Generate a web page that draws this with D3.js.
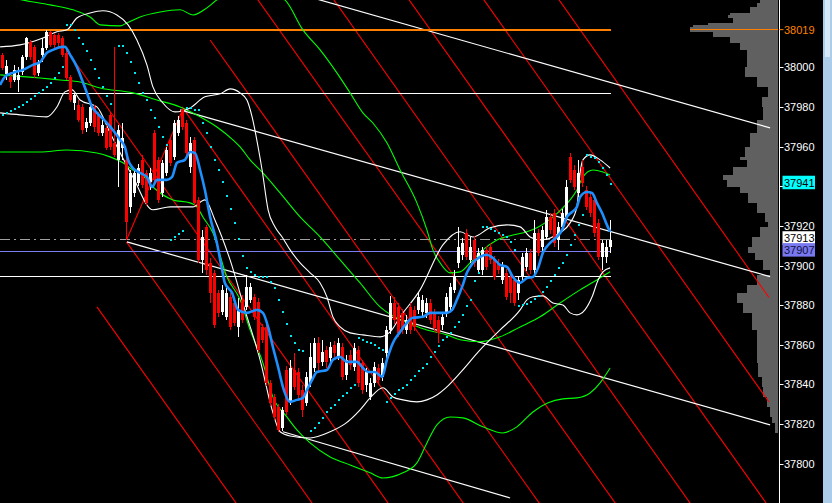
<!DOCTYPE html>
<html><head><meta charset="utf-8">
<script src="https://cdn.jsdelivr.net/npm/d3@7"></script>
<style>html,body{margin:0;padding:0;background:#000;}svg{display:block;}</style>
</head><body>
<svg id="c" width="832" height="503"></svg>
<script>
// ---------- DATA ----------
const opens=[38006.3,37996.7,37995.2,37993.6,37993.6,37997.7,38005.3,38012.8,38010.3,37997.2,38006.3,38009.8,38017.9,38016.3,38016.3,38014.8,38007.3,37995.2,37982.0,37981.0,37980.0,37969.4,37972.0,37980.0,37976.0,37966.9,37969.4,37976.0,37961.9,37953.3,37959.3,37953.3,37929.6,37936.6,37941.7,37953.3,37946.7,37942.2,37966.9,37953.3,37936.6,37946.7,37963.4,37954.8,37966.9,37978.5,37971.9,37949.7,37963.4,37933.1,37902.8,37919.5,37901.3,37896.3,37886.2,37876.6,37874.1,37884.2,37881.1,37869.0,37882.7,37879.1,37882.7,37884.2,37881.6,37869.0,37869.0,37840.8,37833.7,37828.7,37818.1,37847.3,37831.2,37847.3,37846.3,37837.2,37830.7,37840.8,37848.3,37860.9,37851.4,37857.4,37853.4,37859.9,37854.4,37858.9,37844.8,37854.9,37848.8,37857.4,37850.9,37839.8,37833.7,37840.8,37848.3,37843.8,37855.9,37867.5,37881.1,37879.1,37876.1,37867.5,37879.1,37877.6,37877.6,37876.6,37876.1,37881.1,37876.1,37872.6,37870.0,37876.1,37879.1,37887.7,37901.3,37905.4,37916.5,37902.8,37912.9,37897.8,37897.8,37907.9,37909.4,37902.8,37901.3,37892.7,37896.3,37894.2,37892.7,37886.2,37894.2,37899.3,37906.4,37897.8,37916.5,37909.4,37914.4,37924.5,37926.5,37912.9,37919.5,37924.5,37954.8,37948.2,37936.6,37949.7,37938.1,37934.6,37933.1,37921.5,37904.3,37904.3,37909.4];
const highs=[38007.3,38003.7,37997.7,38001.2,38000.2,38006.3,38015.3,38013.8,38011.3,38003.7,38014.8,38019.0,38018.4,38017.3,38017.3,38015.8,38008.8,37996.2,37987.1,37983.5,37981.5,37974.5,37981.5,37981.0,37977.5,37973.5,37970.9,37977.5,38010.3,37970.9,37972.0,37955.8,37948.2,37949.2,37951.3,37955.8,37948.2,37949.2,37968.4,37954.8,37953.3,37959.8,37964.9,37973.5,37975.5,37979.5,37973.5,37964.9,37964.9,37934.6,37918.0,37920.5,37903.8,37897.8,37887.7,37890.2,37888.7,37886.2,37882.7,37883.7,37885.2,37895.3,37891.2,37885.7,37883.7,37870.5,37870.5,37842.3,37835.2,37830.2,37828.7,37849.3,37852.4,37855.9,37848.3,37839.8,37846.3,37860.9,37863.5,37864.0,37862.5,37859.4,37861.5,37862.0,37863.5,37860.9,37854.9,37857.4,37860.9,37859.4,37852.4,37848.3,37843.3,37851.4,37850.4,37853.4,37869.5,37884.7,37884.2,37881.1,37878.1,37875.1,37881.1,37879.6,37886.7,37885.2,37883.7,37883.2,37878.1,37874.6,37876.6,37886.2,37891.2,37897.8,37919.5,37913.9,37918.5,37914.4,37914.9,37908.9,37909.4,37909.9,37911.4,37904.8,37903.3,37901.8,37898.3,37896.3,37894.7,37894.2,37906.4,37908.9,37908.4,37923.0,37918.5,37920.0,37928.1,37926.5,37928.6,37922.0,37928.6,37943.2,37956.8,37950.8,37953.3,37953.3,37940.1,37936.6,37935.1,37923.5,37912.9,37912.9,37923.0];
const lows=[37998.7,37993.6,37989.6,37992.6,37987.6,37996.2,38003.7,38003.7,37994.6,37995.7,38002.7,38008.8,38010.3,38009.8,38010.8,38005.3,37993.6,37982.5,37978.5,37972.5,37966.4,37967.4,37970.5,37967.4,37965.4,37965.4,37958.3,37958.3,37954.8,37939.6,37953.3,37912.9,37926.6,37934.6,37940.1,37939.1,37930.1,37938.1,37941.7,37931.6,37934.6,37945.2,37950.3,37953.3,37965.4,37968.4,37955.3,37946.7,37930.1,37901.3,37896.3,37895.3,37881.1,37868.5,37874.1,37875.1,37872.6,37867.5,37869.5,37864.0,37871.1,37877.6,37881.1,37872.6,37855.9,37861.0,37839.3,37829.2,37822.1,37816.1,37816.6,37824.6,37829.7,37837.2,37832.2,37823.6,37829.2,37838.8,37846.3,37845.8,37849.3,37848.3,37851.4,37853.9,37852.4,37842.3,37842.3,37847.3,37846.8,37838.8,37835.2,37836.2,37832.2,37838.8,37840.3,37841.8,37853.4,37865.5,37870.5,37864.0,37865.5,37865.5,37865.5,37867.0,37875.6,37874.6,37873.6,37870.5,37866.5,37860.9,37867.5,37874.1,37877.6,37886.2,37898.8,37902.8,37902.8,37901.3,37899.3,37896.3,37895.3,37897.8,37900.8,37892.7,37895.8,37890.7,37882.7,37881.1,37879.6,37882.7,37892.7,37897.3,37895.8,37895.8,37904.8,37907.4,37912.9,37915.9,37909.4,37907.9,37918.0,37922.5,37941.7,37938.1,37934.6,37939.6,37928.1,37924.5,37914.4,37902.8,37897.8,37901.3,37906.4];
const closes=[37999.7,38000.7,37992.6,37998.7,37996.2,38005.3,38014.8,38005.3,37996.2,38002.2,38009.8,38017.9,38011.3,38011.3,38012.3,38006.3,37994.6,37983.5,37986.1,37973.5,37968.4,37972.5,37980.0,37970.0,37966.9,37970.9,37959.3,37959.8,37955.8,37968.4,37964.4,37922.0,37946.7,37946.7,37949.2,37940.7,37931.6,37946.7,37943.2,37933.1,37951.8,37958.3,37951.8,37971.9,37973.5,37969.9,37956.8,37961.9,37931.6,37902.8,37914.4,37897.8,37886.2,37870.0,37876.1,37887.7,37886.2,37869.0,37871.1,37877.6,37872.6,37889.2,37889.2,37874.1,37857.4,37862.5,37840.8,37830.7,37823.6,37817.1,37827.2,37826.2,37848.3,37838.8,37834.7,37827.2,37843.8,37853.9,37860.9,37850.8,37856.4,37851.4,37858.9,37855.9,37860.9,37843.8,37852.4,37849.8,37858.4,37840.8,37837.2,37846.3,37840.8,37848.8,37842.3,37850.9,37867.5,37881.1,37872.6,37866.0,37867.5,37872.6,37867.5,37869.0,37884.2,37882.7,37881.1,37872.6,37868.5,37866.0,37874.1,37884.2,37889.2,37894.2,37909.4,37911.4,37904.3,37909.4,37901.3,37906.4,37907.9,37899.3,37902.8,37894.2,37897.8,37899.3,37884.2,37886.2,37881.1,37892.7,37904.3,37906.4,37897.8,37916.5,37906.4,37918.0,37924.5,37918.0,37911.4,37919.5,37926.5,37939.6,37943.2,37939.6,37946.7,37941.7,37929.6,37926.5,37916.5,37904.3,37911.4,37909.4,37913.0];

// moving average (blue) [bar, price]
const maLine=[[-0.6,37991.1],[0.6,37995.2],[2.6,37997.2],[5.1,37998.7],[7.6,38001.2],[9.4,38002.7],[11.1,38007.3],[12.6,38008.8],[14.9,38010.3],[15.6,38010.3],[16.9,38006.3],[18.6,38000.2],[19.9,37993.6],[21.1,37987.1],[22.4,37980.0],[23.6,37977.0],[26.1,37972.0],[27.6,37968.4],[29.4,37963.4],[30.6,37959.8],[31.4,37953.3],[32.6,37949.2],[34.4,37946.7],[36.1,37944.7],[37.4,37939.6],[38.6,37943.2],[41.1,37943.2],[42.4,37944.7],[43.6,37951.8],[45.6,37953.3],[46.9,37957.3],[48.1,37956.8],[49.4,37948.2],[50.6,37938.1],[51.9,37924.5],[53.6,37911.4],[54.9,37897.8],[55.6,37891.2],[57.4,37886.2],[58.9,37877.6],[61.1,37876.1],[63.6,37877.6],[65.1,37876.1],[66.4,37869.0],[67.6,37858.9],[68.9,37848.8],[70.1,37838.8],[71.9,37831.2],[73.6,37832.2],[75.1,37833.2],[76.1,37837.2],[77.4,37842.3],[78.6,37846.3],[81.1,37847.3],[82.6,37852.4],[84.4,37853.9],[86.1,37851.4],[88.6,37851.4],[90.1,37848.3],[91.4,37846.3],[93.1,37846.3],[94.9,37843.8],[96.1,37852.4],[97.6,37860.9],[99.4,37866.5],[101.1,37871.1],[102.6,37873.6],[105.1,37874.1],[106.9,37876.1],[111.1,37876.1],[112.4,37877.6],[113.6,37882.7],[114.9,37889.2],[116.1,37896.3],[117.6,37901.3],[119.4,37904.3],[121.1,37905.4],[122.6,37903.8],[124.4,37900.3],[126.1,37899.3],[127.6,37894.2],[129.4,37891.2],[131.1,37893.7],[132.6,37894.2],[133.9,37898.8],[135.1,37906.4],[136.9,37911.4],[138.6,37914.4],[139.9,37918.0],[141.1,37924.5],[142.4,37927.0],[143.6,37929.6],[144.4,37934.6],[146.1,37937.1],[147.4,37936.6],[148.6,37931.6],[149.9,37926.5],[151.1,37920.5],[151.9,37917.0]];

// parabolic SAR, one value per bar (null = no dot)
const sarValues=[37976.0,37977.0,37978.0,37979.0,37980.0,37981.0,37982.5,37984.0,37985.6,37987.1,37988.6,37990.1,37992.1,37994.6,37997.2,38000.2,38021.4,38021.4,38018.9,38014.8,38011.8,38008.3,38003.7,37999.2,37994.6,37990.1,37985.6,37981.5,null,38010.8,38010.8,38007.3,38002.7,37997.2,37992.1,37987.1,37983.5,37978.5,37974.5,37969.9,37964.9,37960.8,37912.9,37914.4,37915.9,37917.5,37979.5,37979.5,37978.5,37978.5,37971.9,37966.9,37959.8,37953.3,37948.2,37942.2,37935.1,37928.6,37921.5,37913.4,37904.8,37898.8,37896.8,37895.3,37894.2,37894.2,37894.2,37891.7,37888.7,37882.7,37876.6,37870.5,37864.5,37861.0,37857.4,37856.9,null,37816.6,37818.1,37820.6,37823.1,37826.1,37828.2,37829.7,37832.2,37834.2,37835.7,37838.3,37839.8,37863.5,37862.5,37861.5,37861.0,37860.0,37858.4,37857.4,37831.2,37833.2,37835.2,37837.2,37838.3,37839.8,37842.3,37844.3,37846.8,37848.3,37850.4,37853.9,37856.4,37859.4,37862.5,37864.0,37866.0,37869.0,37871.5,37875.1,37879.6,37882.7,37892.2,37896.3,37919.5,37919.5,37918.5,37917.5,37916.5,37915.4,37914.4,37911.9,37907.9,37879.6,37880.1,37880.6,37881.6,37883.1,37884.7,37886.7,37889.2,37892.2,37895.3,37898.8,37901.3,37905.4,37910.4,37915.4,37920.5,37925.5,37955.8,37954.8,37954.3,37952.3,37949.2,37945.7,37941.0];

// Bollinger (white) upper / lower  [bar, price]
const bbUpper=[[-0.6,38010.3],[4.4,38011.3],[10.1,38014.8],[13.6,38017.9],[16.1,38018.9],[18.6,38024.9],[21.9,38027.4],[25.1,38028.5],[28.6,38026.4],[31.4,38021.4],[33.6,38013.8],[36.1,38001.2],[37.6,37990.1],[40.1,37982.0],[43.1,37977.5],[46.9,37979.5],[50.6,37985.1],[54.4,37986.6],[56.9,37989.1],[59.4,37987.1],[61.1,37983.5],[62.4,37975.0],[63.9,37959.8],[64.9,37948.2],[66.4,37928.1],[68.1,37919.5],[69.9,37914.4],[71.9,37907.9],[74.4,37901.3],[76.9,37896.3],[79.4,37891.2],[81.1,37884.2],[82.6,37874.1],[84.4,37869.0],[86.9,37866.0],[90.1,37865.0],[94.4,37864.0],[96.9,37866.5],[99.4,37874.1],[104.4,37887.7],[110.1,37910.4],[114.4,37917.0],[117.6,37914.4],[121.9,37919.0],[126.1,37920.5],[129.4,37919.5],[131.9,37914.4],[134.4,37912.9],[139.4,37916.5],[141.9,37921.5],[143.6,37929.6],[144.4,37946.7],[145.1,37953.3],[146.9,37955.8],[149.4,37953.3],[151.9,37949.2]];
const bbLower=[[-0.6,37977.0],[4.4,37976.0],[11.1,37975.0],[13.6,37980.0],[15.6,37987.6],[17.4,37988.6],[19.4,37983.5],[23.6,37980.0],[26.9,37966.9],[32.6,37944.7],[37.6,37928.1],[41.9,37929.6],[47.6,37929.6],[50.6,37933.1],[53.1,37923.0],[56.9,37902.8],[60.6,37877.6],[64.4,37852.4],[67.4,37827.2],[69.4,37816.1],[71.9,37814.0],[76.9,37813.0],[81.9,37816.1],[85.6,37820.1],[89.4,37827.2],[91.9,37833.2],[95.1,37838.3],[97.6,37833.7],[100.1,37832.2],[103.6,37831.2],[106.1,37832.2],[108.6,37834.7],[111.1,37838.8],[114.4,37845.8],[119.4,37857.4],[124.4,37867.5],[129.4,37877.6],[131.1,37882.7],[132.6,37884.2],[135.1,37884.7],[137.6,37881.1],[140.1,37880.1],[141.9,37876.1],[143.6,37875.1],[145.6,37877.6],[147.4,37884.2],[148.9,37892.7],[150.1,37896.8],[151.9,37898.8]];

// long bands (green) upper / middle / lower
const gUpper=[[-0.6,38036.5],[4.9,38034.0],[11.9,38031.5],[17.6,38029.0],[21.9,38025.4],[24.4,38021.4],[29.4,38020.9],[31.1,38022.4],[34.4,38025.4],[39.4,38027.9],[44.4,38029.0],[47.6,38026.4],[51.1,38030.0],[53.6,38034.0],[61.9,38041.6],[70.6,38034.0],[75.1,38018.9],[79.4,38008.8],[83.6,37997.2],[86.9,37987.1],[90.1,37977.0],[92.6,37971.9],[96.1,37961.9],[99.4,37948.2],[103.6,37931.6],[106.1,37918.0],[107.6,37907.9],[109.4,37901.3],[111.9,37896.3],[114.4,37896.8],[116.9,37901.3],[120.1,37907.9],[123.6,37912.9],[127.6,37915.4],[131.1,37917.0],[133.6,37919.0],[137.6,37924.5],[140.1,37929.1],[141.9,37933.1],[143.6,37938.1],[145.1,37944.7],[147.6,37948.2],[150.1,37947.2],[151.9,37945.7]];
const gMiddle=[[-0.6,37996.2],[9.4,37994.6],[14.4,37993.6],[19.4,37992.6],[24.4,37989.6],[32.6,37987.1],[38.6,37983.5],[44.4,37980.0],[49.4,37975.0],[53.6,37969.9],[57.6,37963.4],[59.4,37959.8],[61.9,37953.3],[65.1,37946.7],[69.4,37936.6],[74.4,37924.5],[79.4,37914.4],[84.4,37902.8],[89.4,37891.2],[94.4,37879.1],[99.4,37872.6],[102.6,37870.0],[106.1,37867.5],[111.1,37865.0],[114.4,37862.5],[119.4,37861.5],[124.4,37864.0],[129.4,37869.0],[134.4,37874.1],[139.4,37881.1],[144.4,37887.7],[148.6,37892.7],[151.9,37896.8]];
const gLower=[[-0.6,37957.3],[9.4,37957.3],[16.1,37958.3],[23.6,37956.8],[26.9,37954.8],[30.1,37951.8],[32.6,37948.2],[34.4,37946.7],[37.6,37939.6],[42.6,37933.1],[46.9,37931.6],[48.6,37929.6],[50.1,37924.5],[52.6,37916.5],[56.1,37894.2],[59.4,37882.7],[61.9,37867.5],[65.1,37850.9],[67.6,37833.7],[71.1,37823.6],[73.6,37817.1],[76.9,37810.5],[81.9,37803.4],[86.9,37799.4],[91.9,37795.4],[95.1,37792.8],[100.1,37795.4],[103.6,37800.4],[106.1,37810.5],[108.6,37819.6],[111.9,37823.6],[115.1,37823.1],[120.1,37818.6],[125.1,37815.5],[128.6,37818.6],[132.6,37826.1],[136.4,37830.7],[140.1,37832.7],[143.6,37833.2],[146.9,37835.7],[149.4,37840.8],[151.9,37848.3]];

// red parallel channel lines  [bar1, price1, bar2, price2]
const redLines=[[23.6,37879.1,59.6,37776.7],[31.0,37911.9,78.6,37776.7],[17.4,38004.7,97.6,37776.7],[44.9,37980.0,116.4,37776.7],[51.9,38013.8,135.4,37776.7],[62.1,38039.0,154.4,37776.7],[81.1,38039.0,173.1,37776.7],[99.9,38039.0,191.6,37778.2],[118.6,38039.0,191.6,37831.2],[137.4,38039.0,191.6,37883.9]];
// red zigzag leg
const zigzag=[[31.0,37912.9],[45.1,37979.0]];
// white trend lines
const trendLines=[[70.6,38039.0,191.9,37969.4],[44.4,37978.5,191.9,37894.4],[31.1,37911.9,191.9,37819.6],[70.1,37816.1,126.9,37782.7]];
// horizontal price levels
const levelHigh=38019, levelUpper=37986.9, levelBid=37913, levelBlue=37907, levelLower=37894.2;
const levelEndBar=152;
// axis
const tickPrices=[38000,37980,37960,37940,37920,37900,37880,37860,37840,37820,37800];
const tickLabelPrices=[38000,37980,37960,37920,37900,37880,37860,37840,37820,37800];
const labelSar=37941, labelBid=37913, labelBlue=37907;
// volume profile (segment top prices, last entry = bottom) and volumes
const profileTop=[38034,38032.5,38030.5,38027.4,38026.4,38024.9,38022.4,38021.4,38020.4,38017.9,38015.3,38012.3,38008.8,38000.2,37995.2,37990.1,37985.1,37980.0,37973.5,37966.9,37959.8,37954.8,37953.3,37949.7,37945.7,37943.2,37939.6,37936.6,37931.6,37926.5,37922.0,37919.5,37914.4,37909.4,37906.4,37902.8,37897.8,37895.3,37890.2,37886.2,37881.1,37876.1,37867.5,37857.4,37850.9,37843.8,37838.8,37833.7,37828.7,37823.6,37820.6,37815.5];
const profileVol=[18,21,28,48,50,45,70,85,88,65,48,38,31,33,21,10,16,15,21,28,33,38,31,45,55,51,38,30,21,13,10,18,26,30,23,15,8,21,31,41,35,26,21,21,20,16,15,11,8,6,3];

// ---------- DRAW ----------
const W=832,H=503, AX=779.5;
const svg=d3.select("#c");
svg.append("rect").attr("width",W).attr("height",H).attr("fill","#000");
const xS=d3.scaleLinear().domain([0,152]).range([2.5,610.5]);
const yS=d3.scaleLinear().domain([37800,38000]).range([463.7,67.3]);
const vS=d3.scaleLinear().domain([0,100]).range([0,100]);

svg.append("clipPath").attr("id","pc").append("rect").attr("x",0).attr("y",0).attr("width",779).attr("height",H);
const g=svg.append("g").attr("clip-path","url(#pc)");

// volume profile
const prof=g.append("g").attr("shape-rendering","crispEdges");
profileVol.forEach((v,k)=>{
  const y1=yS(profileTop[k]), y2=yS(profileTop[k+1]);
  prof.append("rect").attr("x",778-vS(v)).attr("y",y1).attr("width",vS(v)).attr("height",y2-y1)
    .attr("fill","#606060");
});
g.append("line").attr("x1",690).attr("x2",778).attr("y1",yS(levelHigh)).attr("y2",yS(levelHigh))
 .attr("stroke","#ff8000").attr("stroke-width",1).attr("shape-rendering","crispEdges");

const lineGen=d3.line().x(d=>xS(d[0])).y(d=>yS(d[1]));
const curveGen=d3.line().x(d=>xS(d[0])).y(d=>yS(d[1])).curve(d3.curveMonotoneX);

// red channel lines
g.append("g").selectAll("line").data(redLines).join("line")
 .attr("x1",d=>xS(d[0])).attr("y1",d=>yS(d[1])).attr("x2",d=>xS(d[2])).attr("y2",d=>yS(d[3]))
 .attr("stroke","#ff0000").attr("stroke-width",1.1);
g.append("path").attr("d",lineGen(zigzag)).attr("stroke","#ff0000").attr("stroke-width",1.1).attr("fill","none");

// white trend lines
g.append("g").selectAll("line").data(trendLines).join("line")
 .attr("x1",d=>xS(d[0])).attr("y1",d=>yS(d[1])).attr("x2",d=>xS(d[2])).attr("y2",d=>yS(d[3]))
 .attr("stroke","#ffffff").attr("stroke-width",1.2);

// horizontal levels
const hl=(p,col,w,dash)=>{const l=g.append("line").attr("x1",0).attr("x2",xS(levelEndBar)).attr("y1",yS(p)).attr("y2",yS(p))
   .attr("stroke",col).attr("stroke-width",w).attr("shape-rendering","crispEdges"); if(dash) l.attr("stroke-dasharray",dash); return l;};
hl(levelUpper,"#ffffff",1);
hl(levelLower,"#ffffff",1);
hl(levelBlue,"#7d7df0",1);
hl(levelBid,"#a0a0a0",1,"10,4,2,4");
hl(levelHigh,"#ff8000",2);

// green bands
[gUpper,gMiddle,gLower].forEach(a=>g.append("path").attr("d",curveGen(a)).attr("stroke","#00ff00").attr("stroke-width",1.1).attr("fill","none"));
// white bollinger
[bbUpper,bbLower].forEach(a=>g.append("path").attr("d",curveGen(a)).attr("stroke","#ffffff").attr("stroke-width",1.1).attr("fill","none"));

// candles
const bars=d3.range(opens.length);
const cg=g.append("g").attr("shape-rendering","crispEdges");
cg.selectAll(".w").data(bars).join("line")
 .attr("x1",i=>xS(i)).attr("x2",i=>xS(i)).attr("y1",i=>yS(highs[i])).attr("y2",i=>yS(lows[i]))
 .attr("stroke",i=>closes[i]>=opens[i]?"#ffffff":"#ff0000").attr("stroke-width",1);
cg.selectAll(".b").data(bars).join("rect")
 .attr("x",i=>xS(i)-1.5).attr("width",3)
 .attr("y",i=>yS(Math.max(opens[i],closes[i])))
 .attr("height",i=>Math.max(1,Math.abs(yS(opens[i])-yS(closes[i]))))
 .attr("fill",i=>closes[i]>=opens[i]?"#ffffff":"#ff0000");

// blue MA
g.append("path").attr("d",curveGen(maLine)).attr("stroke","#1e8fff").attr("stroke-width",2.6).attr("fill","none");

// SAR dots
g.append("g").attr("shape-rendering","crispEdges").selectAll("rect").data(bars.filter(i=>sarValues[i]!=null)).join("rect")
 .attr("x",i=>xS(i)-1).attr("y",i=>Math.round(yS(sarValues[i]))-1).attr("width",2).attr("height",2)
 .attr("fill","#00e8f0");

// axis
svg.append("line").attr("x1",AX).attr("x2",AX).attr("y1",0).attr("y2",H).attr("stroke","#ffffff").attr("stroke-width",1);
const ax=svg.append("g").attr("font-family","Liberation Sans, Arial, sans-serif").attr("font-size","11px");
ax.selectAll("line").data(tickPrices).join("line")
 .attr("x1",AX).attr("x2",AX+4).attr("y1",d=>Math.round(yS(d))+0.5).attr("y2",d=>Math.round(yS(d))+0.5).attr("stroke","#fff");
ax.selectAll("text").data(tickLabelPrices).join("text")
 .attr("x",784).attr("y",d=>yS(d)+4).attr("fill","#ffffff").text(d=>d);
ax.append("line").attr("x1",AX).attr("x2",AX+4).attr("y1",yS(levelHigh)).attr("y2",yS(levelHigh)).attr("stroke","#ff8000");
ax.append("text").attr("x",784).attr("y",yS(levelHigh)+4).attr("fill","#ff8000").text(levelHigh);
const box=(p,bg,fg)=>{const cy=yS(p)-1.5;
  ax.append("rect").attr("x",782.5).attr("y",cy-7).attr("width",32.5).attr("height",13.5).attr("fill",bg);
  ax.append("text").attr("x",784).attr("y",cy+4).attr("fill",fg).text(p);};
box(labelSar,"#00ffff","#000");
box(labelBid,"#ffffff","#000");
box(labelBlue,"#7878f0","#101040");

// right scroll strip
svg.append("rect").attr("x",823).attr("y",0).attr("width",9).attr("height",H).attr("fill","#abcdea");
svg.append("rect").attr("x",825).attr("y",0).attr("width",5).attr("height",57).attr("fill","#d6e7f6");
</script>
</body></html>
